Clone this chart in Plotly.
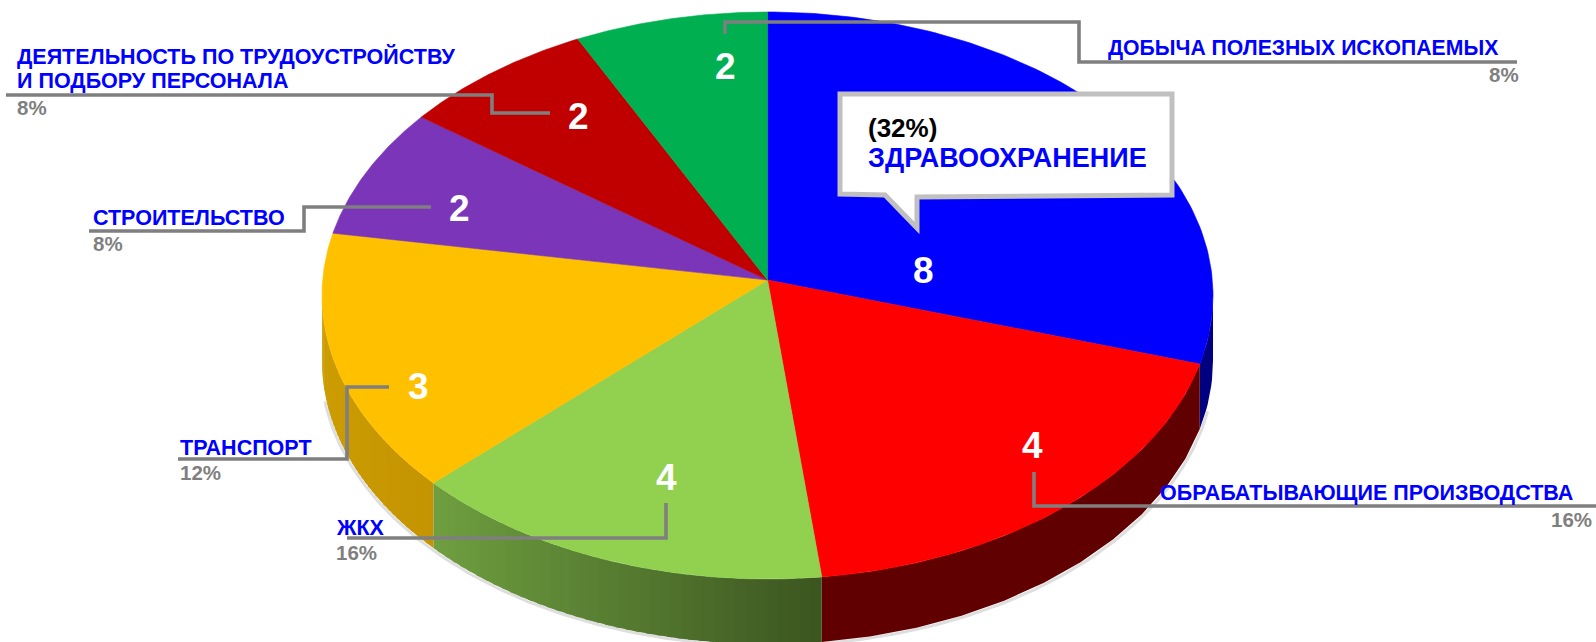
import numpy as np
import plotly.graph_objects as go

# ---- data ----
categories = ["ЗДРАВООХРАНЕНИЕ", "ОБРАБАТЫВАЮЩИЕ ПРОИЗВОДСТВА", "ЖКХ", "ТРАНСПОРТ",
              "СТРОИТЕЛЬСТВО", "ДЕЯТЕЛЬНОСТЬ ПО ТРУДОУСТРОЙСТВУ<br>И ПОДБОРУ ПЕРСОНАЛА",
              "ДОБЫЧА ПОЛЕЗНЫХ ИСКОПАЕМЫХ"]
values = [8, 4, 4, 3, 2, 2, 2]

# ---- style ----
top_colors = ["#0000FF", "#FF0000", "#92D050", "#FFC000", "#7A35B8", "#C00000", "#00B050"]
wall_left = ["#000080", "#600000", "#6F9F40", "#CC9C02", None, None, None]
wall_right = ["#000080", "#600000", "#3B5520", "#C49402", None, None, None]
FONT = "Liberation Sans, Arial, sans-serif"
GRAY = "#7F7F7F"

# ---- view of the tilted disc (screen pixels are the axis units) ----
CX, CY, RX, RY = 767.5, 295.5, 445.5, 283.5
APEX_X, APEX_Y = 767.5, 280.0
DEPTH = 65.0
VIEW_IN = [0, 115.2, 172.8, 230.4, 273.6, 302.4, 331.2, 360]
VIEW_OUT = [0, 104.0, 173.0, 228.6, 282.7, 309.0, 334.8, 360]


def view(deg):
    return np.interp(deg, VIEW_IN, VIEW_OUT)


def rim(phi, dy=0.0):
    r = np.radians(phi)
    return CX + RX * np.sin(r), CY - RY * np.cos(r) + dy


def hex_mix(a, b, t):
    ca = [int(a[i:i + 2], 16) for i in (1, 3, 5)]
    cb = [int(b[i:i + 2], 16) for i in (1, 3, 5)]
    return "#%02X%02X%02X" % tuple(round(x + (y - x) * t) for x, y in zip(ca, cb))


def poly(xs, ys, color, lw=0.6):
    return go.Scatter(x=list(xs), y=list(ys), mode="lines", fill="toself", fillcolor=color,
                      line=dict(width=lw, color=color), hoverinfo="skip", showlegend=False)


cum = np.cumsum([0] + values) / sum(values) * 360
phi_edges = view(cum)
fig = go.Figure()

# soft shadow under the wall
sx, sy = rim(np.linspace(100, 262, 200), DEPTH + 1.5)
fig.add_trace(go.Scatter(x=sx + np.sign(sx - CX) * 1.5, y=sy, mode="lines",
                         line=dict(color="rgba(0,0,0,0.13)", width=3),
                         hoverinfo="skip", showlegend=False))

# side walls, only the part that faces the viewer
for i in range(len(values)):
    if wall_left[i] is None:
        continue
    a, b = max(phi_edges[i], 90.0), min(phi_edges[i + 1], 270.0)
    if b <= a:
        continue
    n = 40 if wall_left[i] != wall_right[i] else 1
    steps = np.linspace(a, b, n + 1)
    x_a, x_b = rim(a)[0], rim(b)[0]
    # drawn in order so each strip overlaps the seam of the one before it
    for p, q in zip(steps[:-1], steps[1:]):
        t = np.linspace(p, min(q + 0.6, b), 12)
        x0, y0 = rim(t)
        x1, y1 = rim(t[::-1], DEPTH)
        mid = rim((p + q) / 2)[0]
        frac = (mid - min(x_a, x_b)) / (abs(x_a - x_b) or 1)
        fig.add_trace(poly(np.r_[x0, x1], np.r_[y0, y1],
                           hex_mix(wall_left[i], wall_right[i], frac), lw=0))

# top faces
for i in range(len(values)):
    t = np.linspace(phi_edges[i], phi_edges[i + 1], 120)
    x, y = rim(t)
    fig.add_trace(poly(np.r_[APEX_X, x, APEX_X], np.r_[APEX_Y, y, APEX_Y], top_colors[i]))

# leader lines
leaders = [
    ([725, 725, 1079, 1079, 1517], [34, 22, 22, 62, 62]),
    ([6, 492, 492, 550], [95, 95, 113, 113]),
    ([89, 304, 304, 431], [231, 231, 207, 207]),
    ([389, 347, 347, 178], [387, 387, 459, 459]),
    ([347, 666, 666], [538, 538, 503]),
    ([1034, 1034, 1596], [472, 506, 506]),
]
for lx, ly in leaders:
    fig.add_trace(go.Scatter(x=lx, y=ly, mode="lines", line=dict(color=GRAY, width=3.6),
                             hoverinfo="skip", showlegend=False))

pct = [f"{round(v / sum(values) * 100)}%" for v in values]
ann = []


def text(x, y, s, size, color, anchor="left"):
    ann.append(dict(x=x, y=y, xref="x", yref="y", text=s, showarrow=False, xanchor=anchor,
                    yanchor="middle", align="left",
                    font=dict(family=FONT, size=size, color=color, weight="bold")))


# numbers on slices
num_pos = [(923, 270), (1032, 445), (666, 477), (418, 386), (459, 208), (578, 116), (725, 66)]
for v, (x, y) in zip(values, num_pos):
    text(x, y, str(v), 37, "#FFFFFF", "center")

# outer labels
BLUE = "#0000FF"
LABEL_SIZE = 21.5
PCT_SIZE = 20.5
text(1575, 493, categories[1], LABEL_SIZE, BLUE, "right")
text(1594, 519, pct[1], PCT_SIZE, GRAY, "right")
text(334, 528, categories[2], LABEL_SIZE, BLUE)
text(334, 552, pct[2], PCT_SIZE, GRAY)
text(178, 448, categories[3], LABEL_SIZE, BLUE)
text(178, 472, pct[3], PCT_SIZE, GRAY)
text(91, 218, categories[4], LABEL_SIZE, BLUE)
text(91, 243, pct[4], PCT_SIZE, GRAY)
text(15, 56, categories[5].split("<br>")[0], LABEL_SIZE, BLUE)
text(15, 81, categories[5].split("<br>")[1], LABEL_SIZE, BLUE)
text(15, 107, pct[5], PCT_SIZE, GRAY)
text(1500, 48, categories[6], 21.2, BLUE, "right")
text(1521, 74, pct[6], PCT_SIZE, GRAY, "right")

# callout for the largest slice
text(866, 128, f"({pct[0]})", 26, "#000000")
text(866, 158, categories[0], 27, BLUE)

fig.update_layout(
    width=1596, height=642, margin=dict(l=0, r=0, t=0, b=0),
    paper_bgcolor="#FFFFFF", plot_bgcolor="#FFFFFF", showlegend=False,
    xaxis=dict(range=[0, 1596], visible=False, fixedrange=True),
    yaxis=dict(range=[642, 0], visible=False, fixedrange=True),
    annotations=ann,
    shapes=[dict(type="path", xref="x", yref="y", layer="above",
                 path="M 840 94 L 1172 94 L 1172 195 L 917 197 L 917 228 L 885 195 L 840 194 Z",
                 fillcolor="#FFFFFF", line=dict(color="#C0C0C0", width=5))],
)
fig.write_html("out.html", post_script="document.body.style.margin='0';document.body.style.overflow='hidden';",
               config=dict(displayModeBar=False))
